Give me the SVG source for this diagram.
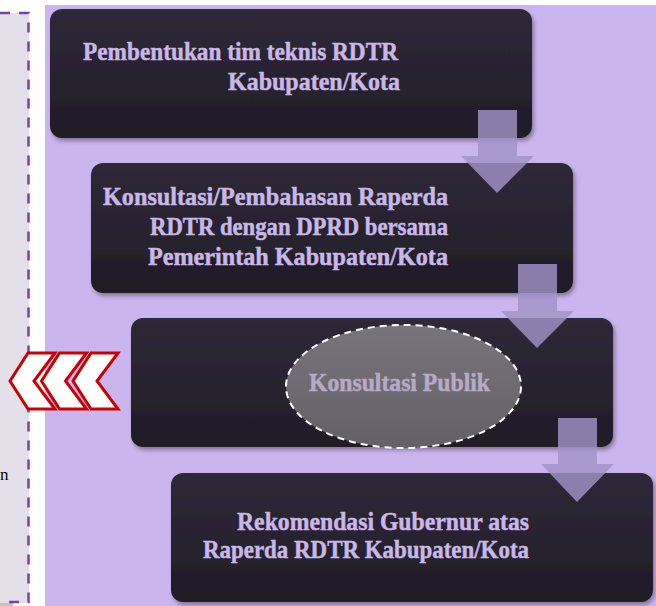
<svg xmlns="http://www.w3.org/2000/svg" width="656" height="606" viewBox="0 0 656 606">
<defs>
<linearGradient id="boxg" x1="0" y1="0" x2="0" y2="1">
<stop offset="0" stop-color="#2f2938"/>
<stop offset="1" stop-color="#211c27"/>
</linearGradient>
<linearGradient id="ellg" x1="0" y1="0" x2="0" y2="1">
<stop offset="0" stop-color="#79747c"/>
<stop offset="1" stop-color="#646067"/>
</linearGradient>
<filter id="sh" x="-5%" y="-5%" width="112%" height="115%">
<feDropShadow dx="2" dy="3" stdDeviation="2" flood-color="#000" flood-opacity="0.35"/>
</filter>
<style>
.box{fill:url(#boxg);filter:url(#sh);}
.t{font-family:"Liberation Serif",serif;font-weight:bold;font-size:25px;fill:#c9b7e6;stroke:#c9b7e6;stroke-width:0.5;}
.arrow{fill:#a292c8;fill-opacity:0.82;}
.chev{fill:#fff;stroke:#cc0000;stroke-width:3;stroke-linejoin:miter;}
.lt{font-family:"Liberation Serif",serif;font-size:17px;fill:#000;}
</style>
</defs>
<rect x="0" y="0" width="656" height="606" fill="#ffffff"/>
<g id="left-panel">
<rect x="0" y="13" width="29" height="590" fill="#e4e0ea"/>
<rect x="0" y="603" width="13" height="3" fill="#c4c4c4"/>
<path d="M0 13 H28.5 V602 H0" fill="none" stroke="#7a3fb0" stroke-width="2.5" stroke-dasharray="10 9"/>
<text class="lt" x="0" y="480">n</text>
</g>
<rect x="45" y="5" width="611" height="601" fill="#cbb5ef"/>
<g id="chevrons">
<polygon class="chev" points="10,381 28,353 55,353 34,381 55,409 28,409"/>
<polygon class="chev" points="41.5,381 59.5,353 86.5,353 65.5,381 86.5,409 59.5,409"/>
<polygon class="chev" points="73,381 91,353 118,353 97,381 118,409 91,409"/>
</g>
<g id="node1">
<rect class="box" x="50" y="9" width="482" height="129" rx="12"/>
<text class="t" x="83" y="60" textLength="315" lengthAdjust="spacingAndGlyphs">Pembentukan tim teknis RDTR</text>
<text class="t" x="228" y="90" textLength="172" lengthAdjust="spacingAndGlyphs">Kabupaten/Kota</text>
</g>
<g id="node2">
<rect class="box" x="91" y="163" width="482" height="130" rx="12"/>
<text class="t" x="103" y="205" textLength="345" lengthAdjust="spacingAndGlyphs">Konsultasi/Pembahasan Raperda</text>
<text class="t" x="150" y="235" textLength="298" lengthAdjust="spacingAndGlyphs">RDTR dengan DPRD bersama</text>
<text class="t" x="148" y="265" textLength="300" lengthAdjust="spacingAndGlyphs">Pemerintah Kabupaten/Kota</text>
</g>
<g id="node3">
<rect class="box" x="131" y="318" width="482" height="129" rx="12"/>
<ellipse cx="403.5" cy="386.5" rx="117.5" ry="61.5" fill="url(#ellg)" stroke="#ffffff" stroke-width="2" stroke-dasharray="7 5"/>
<text class="t" x="309" y="391" textLength="181" lengthAdjust="spacingAndGlyphs" style="fill:#b6aac6;stroke:#b6aac6">Konsultasi Publik</text>
</g>
<g id="node4">
<rect class="box" x="171" y="473" width="482" height="129" rx="12"/>
<text class="t" x="237" y="530" textLength="292" lengthAdjust="spacingAndGlyphs">Rekomendasi Gubernur atas</text>
<text class="t" x="203" y="558" textLength="326" lengthAdjust="spacingAndGlyphs">Raperda RDTR Kabupaten/Kota</text>
</g>
<g id="connectors">
<polygon class="arrow" points="478,110 517,110 517,156 534,156 497,193 461,156 478,156"/>
<polygon class="arrow" points="518,264 557,264 557,311 574,311 537,348 501,311 518,311"/>
<polygon class="arrow" points="558,418 597,418 597,464 614,464 577,502 541,464 558,464"/>
</g>
</svg>
